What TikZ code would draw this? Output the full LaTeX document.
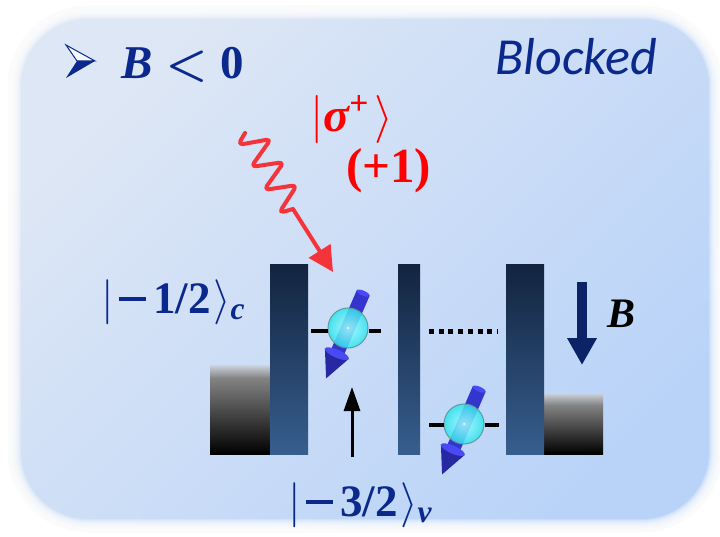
\documentclass[tikz,border=0pt]{standalone}
\usepackage{amsmath}
\usepackage{bm}
\usepackage{fontspec}
\newfontfamily\calibri{Carlito}
\newfontfamily\ketfont{Liberation Serif}
\usetikzlibrary{arrows.meta}
% scalable Computer Modern math at any size
\DeclareFontShape{OML}{cmm}{m}{it}{<->cmmi10}{}
\DeclareFontShape{OML}{cmm}{b}{it}{<->cmmib10}{}
\DeclareFontShape{OMS}{cmsy}{m}{n}{<->cmsy10}{}
\DeclareFontShape{OMS}{cmsy}{b}{n}{<->cmbsy10}{}
\DeclareFontShape{OT1}{cmr}{m}{n}{<->cmr10}{}
\DeclareFontShape{OT1}{cmr}{bx}{n}{<->cmbx10}{}
\DeclareFontShape{OMX}{cmex}{m}{n}{<->cmex10}{}
% heavy upright and italic glyphs for the state labels
\newcommand{\kd}[1]{\text{\ketfont\bfseries #1}}
\newcommand{\ki}[1]{\text{\ketfont\bfseries\itshape #1}}
\newcommand{\kminus}{\text{\rule[0.27em]{0.6em}{0.09em}}}

\definecolor{bgA}{HTML}{DEE7F5}
\definecolor{bgB}{HTML}{B9D3F8}
\definecolor{ink}{HTML}{0B298D}
\definecolor{photon}{HTML}{F5333A}
\definecolor{barTop}{HTML}{12243F}
\definecolor{barMid}{HTML}{1D3455}
\definecolor{barBot}{HTML}{375E8E}
\definecolor{fieldcol}{HTML}{0C2467}
\definecolor{spinBlue}{HTML}{3434CE}
\definecolor{spinLight}{HTML}{4A4AF5}
\definecolor{spinDark}{HTML}{2828A2}
\definecolor{ballIn}{HTML}{A8FFFF}
\definecolor{ballOut}{HTML}{30E2EE}
\definecolor{ballRim}{HTML}{5E9C9A}
\definecolor{contactTop}{HTML}{CDD4DE}
\definecolor{contactMid}{HTML}{838383}

\begin{document}
\begin{tikzpicture}[x=1pt,y=-1pt,
  mathlabel/.style={anchor=base west, inner sep=0pt, font=\fontsize{45}{52}\selectfont},
  barrier/.style={rectangle, inner sep=0pt, top color=barTop, middle color=barMid, bottom color=barBot},
  ballnode/.style={circle, minimum size=40pt, inner sep=0pt, inner color=ballIn, outer color=ballOut,
    fill opacity=0.85, draw=ballRim, line width=1pt},
  level/.style={line width=4pt, black},
  wave/.style={photon, line width=4pt, line cap=round, line join=round},
  pics/spinarrow/.style={code={
    \fill[spinBlue] (-7,-38) rectangle (7,30);
    \fill[spinLight] (0,-38) ellipse [x radius=7pt, y radius=2.5pt];
    \fill[spinDark] (-13,28) -- (13,28) -- (0,55) -- cycle;
    \fill[spinLight] (0,28) ellipse [x radius=13pt, y radius=4pt];
  }}]
\useasboundingbox (0,0) rectangle (720,537);

% panel background with soft edge
\fill[white] (0,0) rectangle (720,537);
\shade[top color=bgA, bottom color=bgB, shading angle=45, rounded corners=80pt] (8,6) rectangle (722,532);
\foreach \w in {2,4,...,26}
  \draw[white, line width=\w pt, opacity=0.22, rounded corners=80pt] (8,6) rectangle (722,532);

% headline
\fill[ink] (77,61) -- (95,61) -- (66,78) -- cycle;
\draw[ink, line width=1pt, fill=white!70!bgA, line join=miter] (66,45) -- (95,61) -- (77,61) -- cycle;
\node[mathlabel, ink, font=\fontsize{47}{54}\selectfont] (cond) at (121,79) {$\ki{B}\mathrel{\bm{<}}\kd{0}$};
\node[anchor=base west, inner sep=0pt, ink, font=\calibri\itshape\fontsize{52}{60}\selectfont] (blk) at (495,75) {Blocked};

% photon
\node[mathlabel, red, font=\fontsize{48}{54}\selectfont] (pol) at (310,132) {$|\ki{σ}^{\kd{+}}\mkern2mu\rangle$};
\node[mathlabel, red, font=\fontsize{49}{56}\selectfont] (hel) at (346,183) {\ketfont\bfseries (+1)};
\coordinate (wstart) at (245,133);
\coordinate (wkink) at (293,209);
\coordinate (wtip) at (333,272);
\draw[wave, rounded corners=5pt] (wstart) -- (238,145) -- (271,139) -- (251,167) -- (284,162) -- (264,190) -- (297,185) -- (279,213) -- (wkink);
\draw[wave, line cap=butt, -{Triangle[length=25pt,width=25pt]}] (wkink) -- (wtip);

% contacts
\shade[top color=contactTop, bottom color=contactMid] (210,365) rectangle (270,378);
\shade[top color=contactMid, bottom color=black] (210,378) rectangle (270,454);
\shade[top color=contactTop, bottom color=contactMid] (544,393) rectangle (603,405);
\shade[top color=contactMid, bottom color=black] (544,405) rectangle (603,454);

% barriers
\node[barrier, minimum width=38pt, minimum height=189pt] (b1) at (289,359.5) {};
\node[barrier, minimum width=22pt, minimum height=189pt] (b2) at (409,359.5) {};
\node[barrier, minimum width=38pt, minimum height=189pt] (b3) at (525,359.5) {};

% confined levels with spins
\coordinate (l1a) at (311,331);
\coordinate (l1b) at (381,331);
\coordinate (l2a) at (429,425);
\coordinate (l2b) at (499,425);
\coordinate (d1) at (429,331);
\coordinate (d2) at (497,331);
\pic[rotate=-23.5] at (348,328) {spinarrow};
\node[ballnode] (s1) at (348,328) {};
\pic[rotate=-23.5] at (464,424) {spinarrow};
\node[ballnode] (s2) at (464,424) {};
\fill[white] (s1.center) circle (1pt);
\fill[white] (s2.center) circle (1pt);
\draw[level] (l1a) -- (s1.west |- l1a);
\draw[level] (s1.east |- l1b) -- (l1b);
\draw[level] (l2a) -- (s2.west |- l2a);
\draw[level] (s2.east |- l2b) -- (l2b);
\draw[black, line width=5pt, dash pattern=on 5pt off 4.7pt] (d1) -- (d2);

% excitation arrow and state labels
\coordinate (vb) at (352,457);
\coordinate (vt) at (352,387);
\draw[black, line width=3pt, -{Triangle[length=24pt,width=16pt]}] (vb) -- (vt);
\node[mathlabel, ink] (cst) at (101,313) {$|\mkern2mu\kminus\mkern3mu\kd{1/2}\mkern1mu\rangle_{\ki{c}}$};
\node[mathlabel, ink] (vst) at (288,516) {$|\mkern2mu\kminus\mkern3mu\kd{3/2}\mkern1mu\rangle_{\ki{v}}$};

% magnetic field
\coordinate (Btail) at (582,282);
\coordinate (Bhead) at (582,365);
\draw[fieldcol, line width=9.5pt, -{Triangle[length=27pt,width=28pt]}] (Btail) -- (Bhead);
\node[anchor=base west, inner sep=0pt, text=black, font=\fontsize{42}{50}\selectfont] (Blab) at (607,327) {$\ki{B}$};
\end{tikzpicture}
\end{document}
